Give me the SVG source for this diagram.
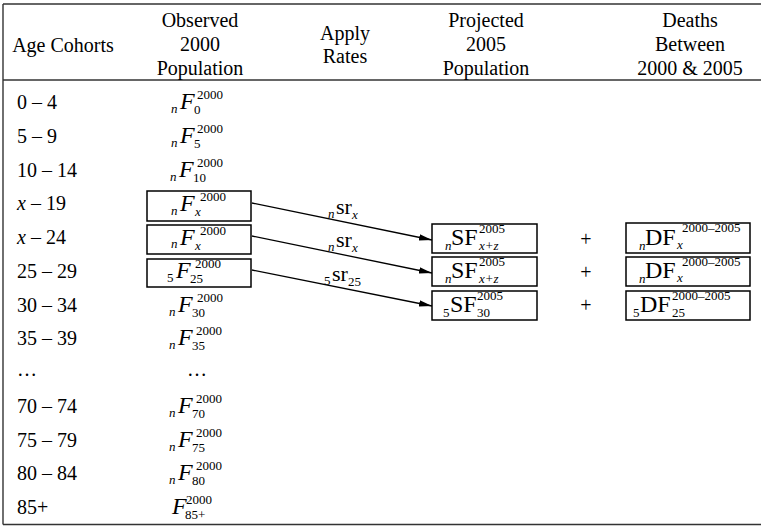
<svg xmlns="http://www.w3.org/2000/svg" width="761" height="526" viewBox="0 0 761 526">
<defs>
<style>
text{font-family:"Liberation Serif","Times New Roman",serif;fill:#000}
.t{font-size:20px}
.h{font-size:20px;text-anchor:middle}
.F{font-size:24px;font-style:italic}
.U{font-size:24px}
.s{font-size:13px}
.si{font-size:13px;font-style:italic}
.sr{font-size:22px}
.box{fill:#fff;stroke:#000;stroke-width:1.5}
.frame{stroke:#333;stroke-width:1.4;fill:none}
.conn{stroke:#000;stroke-width:1.3;fill:none}
</style>
<marker id="ah" markerUnits="userSpaceOnUse" markerWidth="14" markerHeight="8" refX="13" refY="4" orient="auto">
<path d="M0,0.8 L13,4 L0,7.2 Z" fill="#000"/>
</marker>
</defs>

<g id="frame">
<line class="frame" x1="3" y1="4" x2="761" y2="4"/>
<line class="frame" x1="3" y1="80" x2="761" y2="80"/>
<line class="frame" x1="3" y1="524.5" x2="761" y2="524.5"/>
<line class="frame" x1="3" y1="4" x2="3" y2="524.5"/>
</g>

<g id="headers">
<text class="h" x="63" y="52">Age Cohorts</text>
<text class="h" x="200" y="27">Observed</text>
<text class="h" x="200" y="51">2000</text>
<text class="h" x="200" y="75">Population</text>
<text class="h" x="345" y="40">Apply</text>
<text class="h" x="345" y="63">Rates</text>
<text class="h" x="486" y="27">Projected</text>
<text class="h" x="486" y="51">2005</text>
<text class="h" x="486" y="75">Population</text>
<text class="h" x="690" y="27">Deaths</text>
<text class="h" x="690" y="51">Between</text>
<text class="h" x="690" y="75">2000 &amp; 2005</text>
</g>

<g id="age-cohorts">
<text class="t" x="17" y="109">0 – 4</text>
<text class="t" x="17" y="142.75">5 – 9</text>
<text class="t" x="17" y="176.5">10 – 14</text>
<text class="t" x="17" y="210.25"><tspan font-style="italic">x</tspan> – 19</text>
<text class="t" x="17" y="244"><tspan font-style="italic">x</tspan> – 24</text>
<text class="t" x="17" y="277.75">25 – 29</text>
<text class="t" x="17" y="311.5">30 – 34</text>
<text class="t" x="17" y="345.25">35 – 39</text>
<text class="t" x="17" y="376">…</text>
<text class="t" x="17" y="412.75">70 – 74</text>
<text class="t" x="17" y="446.5">75 – 79</text>
<text class="t" x="17" y="480.25">80 – 84</text>
<text class="t" x="17" y="514">85+</text>
</g>

<g id="observed-2000">
<g id="F0"><text class="si" x="171" y="113">n</text><text class="F" x="180" y="109">F</text><text class="s" x="197" y="99">2000</text><text class="s" x="194" y="114">0</text></g>
<g id="F5"><text class="si" x="171" y="146.75">n</text><text class="F" x="180" y="142.75">F</text><text class="s" x="197" y="132.75">2000</text><text class="s" x="194" y="147.75">5</text></g>
<g id="F10"><text class="si" x="170" y="180.5">n</text><text class="F" x="179" y="176.5">F</text><text class="s" x="197" y="166.5">2000</text><text class="s" x="193" y="181.5">10</text></g>
<g id="F30"><text class="si" x="169" y="315.5">n</text><text class="F" x="178" y="311.5">F</text><text class="s" x="197" y="301.5">2000</text><text class="s" x="192" y="316.5">30</text></g>
<g id="F35"><text class="si" x="169" y="349.25">n</text><text class="F" x="178" y="345.25">F</text><text class="s" x="196" y="335.25">2000</text><text class="s" x="192" y="350.25">35</text></g>
<g id="dots"><text class="t" x="197" y="376" text-anchor="middle">…</text></g>
<g id="F70"><text class="si" x="169" y="416.75">n</text><text class="F" x="178" y="412.75">F</text><text class="s" x="196" y="402.75">2000</text><text class="s" x="192" y="417.75">70</text></g>
<g id="F75"><text class="si" x="169" y="450.5">n</text><text class="F" x="178" y="446.5">F</text><text class="s" x="196" y="436.5">2000</text><text class="s" x="192" y="451.5">75</text></g>
<g id="F80"><text class="si" x="169" y="484.25">n</text><text class="F" x="178" y="480.25">F</text><text class="s" x="196" y="470.25">2000</text><text class="s" x="192" y="485.25">80</text></g>
<g id="F85"><text class="F" x="172" y="514">F</text><text class="s" x="186" y="504">2000</text><text class="s" x="185" y="519">85+</text></g>
</g>

<g id="box-Fx-1">
<rect class="box" x="147" y="191" width="104" height="30"/>
<text class="si" x="171" y="214.5">n</text><text class="F" x="180" y="211">F</text><text class="s" x="200" y="201">2000</text><text class="si" x="195" y="216">x</text>
</g>
<g id="box-Fx-2">
<rect class="box" x="147" y="225" width="104" height="29"/>
<text class="si" x="171" y="248">n</text><text class="F" x="180" y="244.5">F</text><text class="s" x="200" y="234.5">2000</text><text class="si" x="195" y="249.5">x</text>
</g>
<g id="box-F25">
<rect class="box" x="147" y="259" width="104" height="28"/>
<text class="s" x="167" y="282">5</text><text class="F" x="176" y="278">F</text><text class="s" x="195" y="268">2000</text><text class="s" x="190" y="283">25</text>
</g>

<g id="connectors">
<line class="conn" x1="252" y1="203" x2="432" y2="240" marker-end="url(#ah)"/>
<line class="conn" x1="252" y1="236" x2="432" y2="273" marker-end="url(#ah)"/>
<line class="conn" x1="252" y1="270" x2="432" y2="306" marker-end="url(#ah)"/>
<text class="si" x="328" y="218">n</text><text class="sr" x="336" y="214">sr</text><text class="si" x="352" y="219">x</text>
<text class="si" x="328" y="251">n</text><text class="sr" x="336" y="247">sr</text><text class="si" x="352" y="252">x</text>
<text class="s" x="324" y="285">5</text><text class="sr" x="332" y="281">sr</text><text class="s" x="348" y="286">25</text>
</g>

<g id="box-SF-1">
<rect class="box" x="432" y="224" width="105" height="29"/>
<text class="si" x="445" y="250">n</text><text class="U" x="451" y="245">SF</text><text class="s" x="479" y="233">2005</text><text class="si" x="479" y="250">x+z</text>
</g>
<g id="box-SF-2">
<rect class="box" x="432" y="257" width="105" height="29"/>
<text class="si" x="445" y="283">n</text><text class="U" x="451" y="278">SF</text><text class="s" x="479" y="266">2005</text><text class="si" x="479" y="283">x+z</text>
</g>
<g id="box-SF-3">
<rect class="box" x="432" y="291" width="105" height="29"/>
<text class="s" x="443" y="317">5</text><text class="U" x="450" y="312">SF</text><text class="s" x="477" y="300">2005</text><text class="s" x="477" y="317">30</text>
</g>

<g id="plus">
<text class="t" x="586" y="246" text-anchor="middle">+</text>
<text class="t" x="586" y="279" text-anchor="middle">+</text>
<text class="t" x="586" y="312" text-anchor="middle">+</text>
</g>

<g id="box-DF-1">
<rect class="box" x="626" y="223" width="124" height="30"/>
<text class="si" x="639" y="250">n</text><text class="U" x="645" y="245">DF</text><text class="s" x="682" y="232">2000–2005</text><text class="si" x="677" y="249">x</text>
</g>
<g id="box-DF-2">
<rect class="box" x="626" y="257" width="124" height="29"/>
<text class="si" x="639" y="283">n</text><text class="U" x="645" y="278">DF</text><text class="s" x="682" y="266">2000–2005</text><text class="si" x="677" y="282">x</text>
</g>
<g id="box-DF-3">
<rect class="box" x="626" y="291" width="124" height="29"/>
<text class="s" x="633" y="317">5</text><text class="U" x="640" y="312">DF</text><text class="s" x="672" y="300">2000–2005</text><text class="s" x="672" y="317">25</text>
</g>
</svg>
